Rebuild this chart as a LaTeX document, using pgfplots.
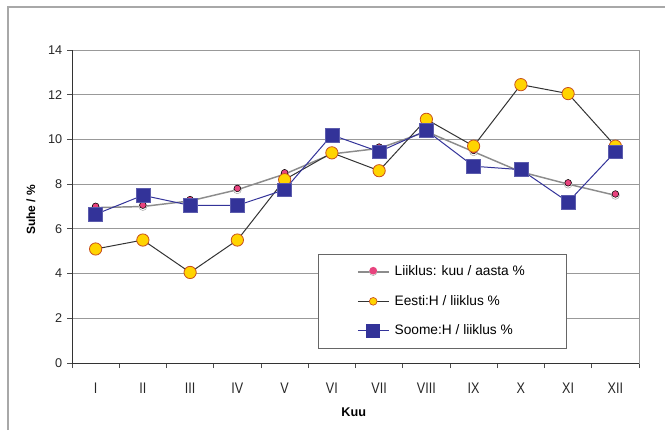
\documentclass[border=0pt]{standalone}
\usepackage{fontspec}
\setmainfont{Liberation Sans}
\usepackage{graphicx}
\usepackage{pgfplots}
\usepackage{pgfplotstable}
\pgfplotsset{compat=1.18}

\definecolor{navy}{HTML}{333399}
\definecolor{gold}{HTML}{FFD400}
\definecolor{goldedge}{HTML}{C8501E}
\definecolor{rose}{HTML}{E8437E}
\definecolor{framegray}{HTML}{A8A8A8}

% monthly shares (%)
\pgfplotstableread{
m  liik   eesti  soome
1  6.95   5.10   6.65
2  7.00   5.50   7.50
3  7.25   4.05   7.05
4  7.75   5.50   7.05
5  8.45   8.20   7.75
6  9.35   9.40  10.20
7  9.60   8.60   9.45
8  10.35 10.90  10.40
9  9.45   9.70   8.80
10 8.55  12.45   8.65
11 8.00  12.05   7.20
12 7.50   9.70   9.45
}\data

\newcommand{\rn}[1]{\scalebox{0.82}[1]{#1}}
\newcommand{\lgfont}{\fontsize{10.3}{12}\selectfont}

\begin{document}
\begin{tikzpicture}
\useasboundingbox (0,0) rectangle (498.75pt,322.5pt);
\draw[framegray, line width=0.8pt] (6pt,0) -- (6pt,317.25pt) -- (498.75pt,317.25pt);
\begin{axis}[
  at={(54pt,50.25pt)}, anchor=south west, scale only axis,
  width=425.25pt, height=234.75pt,
  xmin=0.5, xmax=12.5, ymin=0, ymax=14,
  xtick={1,...,12},
  xticklabels={\rn{I},\rn{II},\rn{III},\rn{IV},\rn{V},\rn{VI},\rn{VII},\rn{VIII},\rn{IX},\rn{X},\rn{XI},\rn{XII}},
  major x tick style={draw=none},
  minor xtick={0.5,1.5,...,12.5},
  ytick={0,2,...,14},
  tick pos=left,
  ymajorgrids,
  grid style={black!40, line width=0.6pt},
  tick align=outside,
  major tick length=3.75pt, minor tick length=3.75pt,
  tick style={black!70, line width=0.6pt},
  axis line style={black!40, line width=0.6pt},
  yticklabel style={font=\fontsize{9.5}{10}\selectfont, /pgf/number format/assume math mode=true, text=black!85},
  xticklabel style={font=\fontsize{11.5}{12}\selectfont, text=black!85, yshift=-7.5pt},
  ylabel={Suhe / \%},
  ylabel style={font=\fontsize{9}{10}\selectfont\bfseries, at={(axis description cs:-0.0723,0.489)}, anchor=center, rotate=0},
  xlabel={Kuu},
  xlabel style={font=\fontsize{9.5}{10}\selectfont\bfseries, at={(axis description cs:0.497,-0.157)}, anchor=center},
  legend style={at={(0.434,0.348)}, anchor=north west,
    draw=black!60, fill=white, line width=0.6pt,
    font=\lgfont,
    inner xsep=29pt, inner ysep=6.5pt, row sep=9.2pt,
    cells={anchor=west},
    /tikz/every odd column/.append style={column sep=2pt}},
]
\draw[black!80, line width=0.6pt] (rel axis cs:0,1) -- (rel axis cs:0,0) -- (rel axis cs:1,0);

\addplot[color=black!45, line width=1.1pt, mark=*, mark size=3pt,
  mark options={fill=white, draw=black!35, line width=0.4pt},
  legend image code/.code={
    \draw[black!45, line width=1.1pt] (0pt,0pt) -- (23pt,0pt);
    \filldraw[fill=white, draw=black!35, line width=0.4pt] (11.5pt,0pt) circle (2.8pt);
    \fill[rose] (11.5pt,0.8pt) circle (2.3pt);}]
  table[x=m, y=liik]{\data};
\addlegendentry{\lgfont Liiklus: kuu / aasta \%}
\addplot[only marks, forget plot, mark=*, mark size=2.5pt,
  mark options={fill=rose, draw=none, yshift=1pt}]
  table[x=m, y=liik]{\data};

\addplot[color=black!80, line width=0.75pt, mark=*, mark size=4.6pt,
  mark options={fill=gold, draw=goldedge, line width=0.6pt},
  legend image code/.code={
    \draw[black!80, line width=0.75pt] (0pt,0pt) -- (23pt,0pt);
    \filldraw[fill=gold, draw=goldedge, line width=0.5pt] (11.5pt,0pt) circle (2.9pt);}]
  table[x=m, y=eesti]{\data};
\addlegendentry{\lgfont Eesti:H / liiklus \%}

\addplot[color=navy, line width=0.75pt, mark=square*, mark size=5.2pt,
  mark options={fill=navy, draw=navy!80!white, line width=0.3pt},
  legend image code/.code={
    \draw[navy, line width=0.75pt] (0pt,0pt) -- (23pt,0pt);
    \fill[navy] (6.75pt,-4.75pt) rectangle (16.25pt,4.75pt);}]
  table[x=m, y=soome]{\data};
\addlegendentry{\lgfont Soome:H / liiklus \%}
\end{axis}
\end{tikzpicture}
\end{document}
